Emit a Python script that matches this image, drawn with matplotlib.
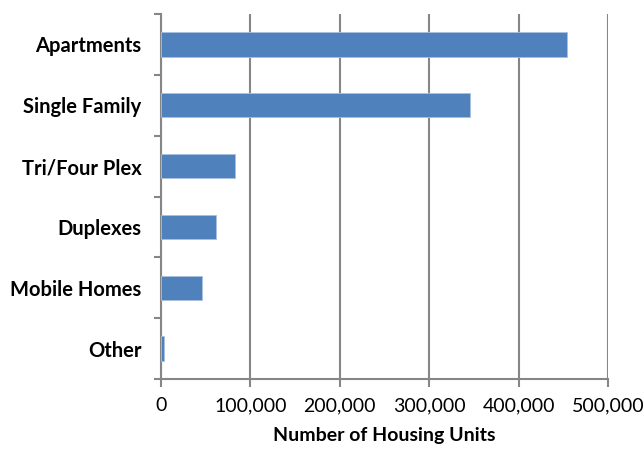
import matplotlib.pyplot as plt
from matplotlib.ticker import FuncFormatter

plt.rcParams['font.family'] = ['Lato', 'DejaVu Sans']

categories = ['Apartments', 'Single Family', 'Tri/Four Plex', 'Duplexes', 'Mobile Homes', 'Other']
units = [454000, 346000, 83000, 61000, 46000, 3000]
xticks = [0, 100000, 200000, 300000, 400000, 500000]

fig = plt.figure(figsize=(6.44, 4.51), dpi=100)
ax = fig.add_axes([161 / 644, 1 - 379 / 451, 447 / 644, 365 / 451])

pos = list(range(len(categories)))
ax.barh(pos, units, height=0.4, color='#4F81BD', edgecolor='#A9C0DF', linewidth=0.6, zorder=3)

ax.set_ylim(len(categories) - 0.5, -0.5)
ax.set_xlim(0, 500000)
ax.set_xticks(xticks)
ax.xaxis.set_major_formatter(FuncFormatter(lambda v, p: f'{int(v):,}'))
ax.set_yticks(pos)
ax.set_yticklabels(categories, fontweight='bold', fontsize=14.5)
ax.set_yticks([p + 0.5 for p in range(-1, len(categories))], minor=True)

ax.grid(axis='x', color='#868686', linewidth=1.5, zorder=0)
for s in ['top', 'right']:
    ax.spines[s].set_visible(False)
for s in ['left', 'bottom']:
    ax.spines[s].set_color('#868686')
    ax.spines[s].set_linewidth(1.5)

ax.tick_params(axis='y', which='major', length=0, pad=14)
ax.tick_params(axis='y', which='minor', length=5, width=1.5, color='#868686')
ax.tick_params(axis='x', length=6, width=1.5, color='#868686', labelsize=14, pad=7)

ax.set_xlabel('Number of Housing Units', fontweight='bold', fontsize=14, labelpad=9)

fig.savefig('out.png', dpi=100)
